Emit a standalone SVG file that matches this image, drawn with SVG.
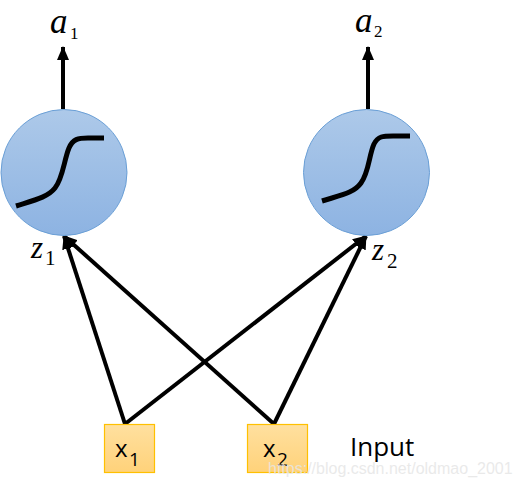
<svg xmlns="http://www.w3.org/2000/svg" width="519" height="487" viewBox="0 0 519 487">
<defs>
<linearGradient id="cg" x1="0" y1="0" x2="0" y2="1">
<stop offset="0" stop-color="#adc9e9"/>
<stop offset="1" stop-color="#8db3e2"/>
</linearGradient>
<linearGradient id="bg" x1="0" y1="0" x2="0" y2="1">
<stop offset="0" stop-color="#ffe09f"/>
<stop offset="1" stop-color="#ffd27a"/>
</linearGradient>
<marker id="ah" markerWidth="14" markerHeight="12" refX="13" refY="6" orient="auto" markerUnits="userSpaceOnUse">
<path d="M0,0 L14,6 L0,12 Z" fill="#000"/>
</marker>
</defs>
<style>
.neuron{fill:url(#cg);stroke:#6a9fd6;stroke-width:1}
.sig{fill:none;stroke:#000;stroke-width:5;stroke-linecap:butt}
.box{fill:url(#bg);stroke:#ffc000;stroke-width:1.2}
.edge{stroke:#000;stroke-width:4;fill:none;marker-end:url(#ah)}
.ma{font-family:"Liberation Serif",serif;font-style:italic;font-size:35px;fill:#000}
.mz{font-family:"Liberation Serif",serif;font-style:italic;font-size:31px;fill:#000}
.suba{font-family:"Liberation Serif",serif;font-size:17px;fill:#000}
.subz{font-family:"Liberation Serif",serif;font-size:21px;fill:#000}
.lbl{font-family:"Open Sans","Liberation Sans",sans-serif;font-size:24px;fill:#000}
.inp{font-family:"Open Sans","Liberation Sans",sans-serif;font-size:26px;fill:#000}
.lsub{font-family:"Open Sans","Liberation Sans",sans-serif;font-size:19px;fill:#000}
</style>
<g id="connectors">
<line class="edge" x1="63" y1="109" x2="63" y2="47"/>
<line class="edge" x1="368" y1="109" x2="368" y2="47"/>
<line class="edge" x1="125" y1="424" x2="64" y2="236"/>
<line class="edge" x1="274" y1="424" x2="64" y2="236"/>
<line class="edge" x1="125" y1="424" x2="366" y2="236"/>
<line class="edge" x1="274" y1="424" x2="366" y2="236"/>
</g>
<g id="neuron1">
<circle class="neuron" cx="64" cy="172.5" r="63"/>
<path class="sig" d="M16,206 C35,200 48,197 55,188 C63,178 64,160 69,148 C73,139 78,138 88,138 L104,138"/>
</g>
<g id="neuron2">
<circle class="neuron" cx="366.5" cy="172.5" r="63"/>
<path class="sig" d="M322,201 C341,195 354,193 361,183 C369,172 369,155 374,144 C378,136 383,136 393,136 L410,136"/>
</g>
<g id="label-a1"><text class="ma" x="50" y="33">a</text><text class="suba" x="70" y="39">1</text></g>
<g id="label-a2"><text class="ma" x="355" y="32">a</text><text class="suba" x="374" y="37">2</text></g>
<g id="label-z1"><text class="mz" x="31" y="258">z</text><text class="subz" x="45" y="265">1</text></g>
<g id="label-z2"><text class="mz" x="372" y="260">z</text><text class="subz" x="387" y="268">2</text></g>
<g id="input1">
<rect class="box" x="104.5" y="424.5" width="50" height="48"/>
<text class="lbl" x="115" y="457">x</text><text class="lsub" x="129" y="466">1</text>
</g>
<g id="input2">
<rect class="box" x="247.5" y="424.5" width="60" height="48"/>
<text class="lbl" x="263" y="457">x</text><text class="lsub" x="277" y="466">2</text>
</g>
<text id="input-label" class="inp" x="350" y="456">Input</text>
<text x="268" y="474" font-family="Liberation Sans,sans-serif" font-size="16" fill="#e6e6e6" fill-opacity="0.85">https://blog.csdn.net/oldmao_2001</text>
</svg>
